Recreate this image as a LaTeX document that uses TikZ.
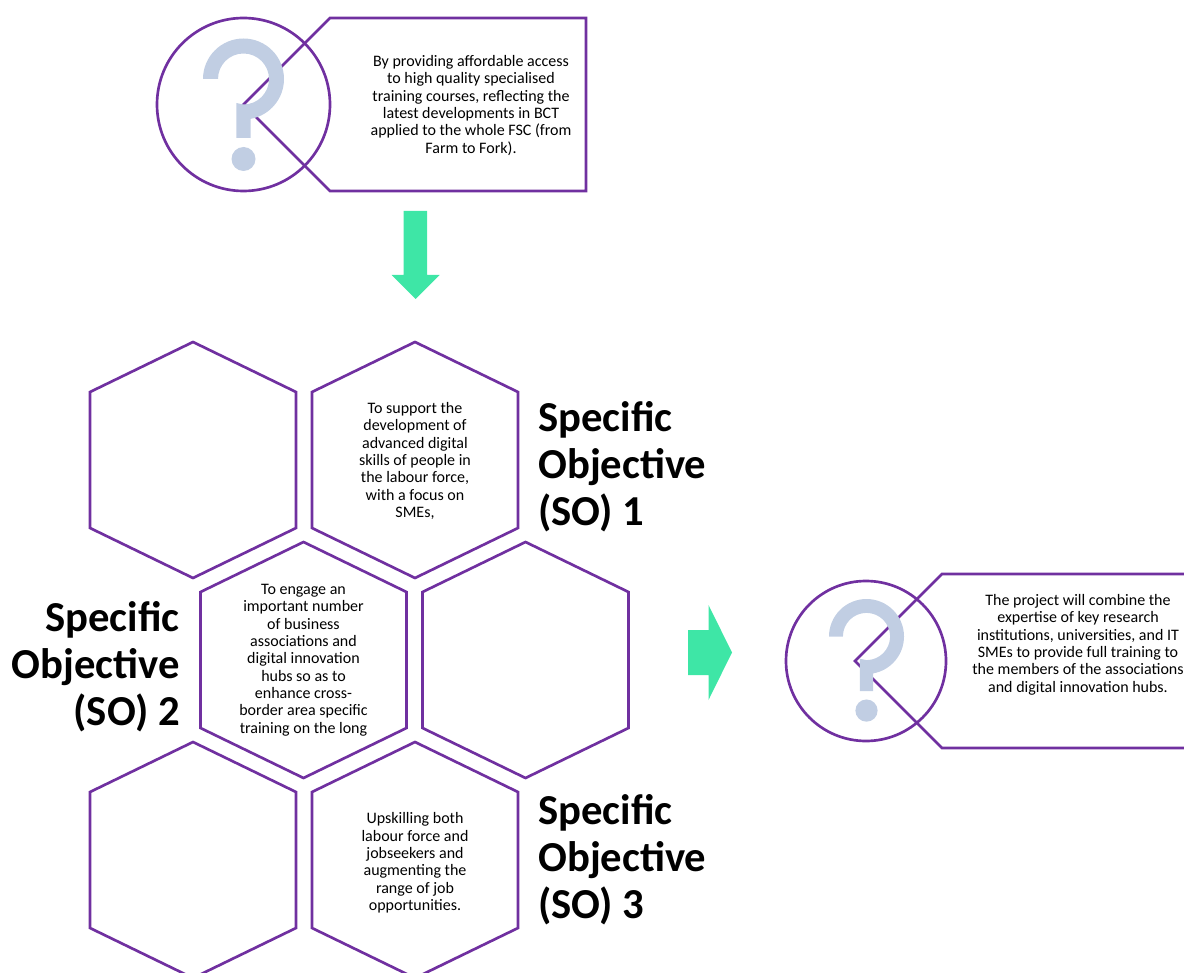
\documentclass[tikz,border=0pt]{standalone}
\usepackage{fontspec}
\setmainfont{Carlito}
\usepackage{tikz}
\definecolor{hexpurple}{HTML}{7030A0}
\definecolor{arrowgreen}{HTML}{3EE6A6}
\definecolor{quizblue}{HTML}{C1CEE3}
\tikzstyle{outline}=[draw=hexpurple, line width=2pt, line join=miter]
\tikzstyle{smalltext}=[align=center, font=\fontsize{12}{13}\selectfont, inner sep=0pt, text=black]
\tikzstyle{bigtext}=[font=\fontsize{32}{35.2}\selectfont\bfseries, inner sep=0pt, text=black]
% #1 centre x, #2 top y
\newcommand{\hexcell}[2]{
	\draw[outline] (#1-103,#2+50) -- (#1,#2) -- (#1+103,#2+50) -- (#1+103,#2+186) -- (#1,#2+236) -- (#1-103,#2+186) -- cycle;
}
% #1 centre of the bowl, #2 scale
\newcommand{\quizmark}[2]{
	\begin{scope}[shift={#1}, scale=#2]
		\fill[quizblue] (-40.5,0) arc (180:440:40.5) -- (7.2,59) -- (-7.2,59) -- (-7.2,24) -- (0,25.5) arc (90:-180:25.5) -- cycle;
		\fill[quizblue] (0,80) circle (12);
	\end{scope}
}
\begin{document}
\begin{tikzpicture}[x=.75pt,y=-.75pt]
	\clip (0,0) rectangle (1184,973);
%
	\draw[outline] (243.5,104.5) circle (86.5);
	\draw[outline] (243.5,104.5) -- (330,18) -- (586,18) -- (586,191) -- (330,191) -- cycle;
	\quizmark{(243.5,79)}{1}
	\node[smalltext] (topnote) at (471,105.5) {By providing affordable access\\to high quality specialised\\training courses, reflecting the\\latest developments in BCT\\applied to the whole FSC (from\\Farm to Fork).};
%
	\fill[arrowgreen] (403.5,211) -- (427,211) -- (427,275) -- (439.5,275) -- (415.5,299) -- (391.5,275) -- (403.5,275) -- cycle;
%
	\hexcell{193}{342}
	\hexcell{415}{342}
	\hexcell{303.5}{542}
	\hexcell{525.5}{542}
	\hexcell{193}{742}
	\hexcell{415}{742}
	\node[smalltext] (support) at (415,461) {To support the\\development of\\advanced digital\\skills of people in\\the labour force,\\with a focus on\\SMEs,};
	\node[smalltext] (engage) at (303.5,660) {To engage an\\important number\\of business\\associations and\\digital innovation\\hubs so as to\\enhance cross-\\border area specific\\training on the long};
	\node[smalltext] (upskill) at (415,863) {Upskilling both\\labour force and\\jobseekers and\\augmenting the\\range of job\\opportunities.};
%
	\node[bigtext, align=left, anchor=west] (sofirst) at (538,467) {Specific\\Objective\\(SO) 1};
	\node[bigtext, align=right, anchor=east] (sosecond) at (180,667) {Specific\\Objective\\(SO) 2};
	\node[bigtext, align=left, anchor=west] (sothird) at (538,860) {Specific\\Objective\\(SO) 3};
%
	\fill[arrowgreen] (688,630) -- (708.5,630) -- (708.5,605) -- (732,652.5) -- (708.5,700) -- (708.5,675) -- (688,675) -- cycle;
%
	\draw[outline] (866,661) circle (80);
	\draw[outline] (855,661) -- (942,574) -- (1190,574) -- (1190,748) -- (942,748) -- cycle;
	\quizmark{(866.5,636.5)}{.926}
	\node[smalltext] (rightnote) at (1078,644.5) {The project will combine the\\expertise of key research\\institutions, universities, and IT\\SMEs to provide full training to\\the members of the associations\\and digital innovation hubs.};
\end{tikzpicture}
\end{document}
